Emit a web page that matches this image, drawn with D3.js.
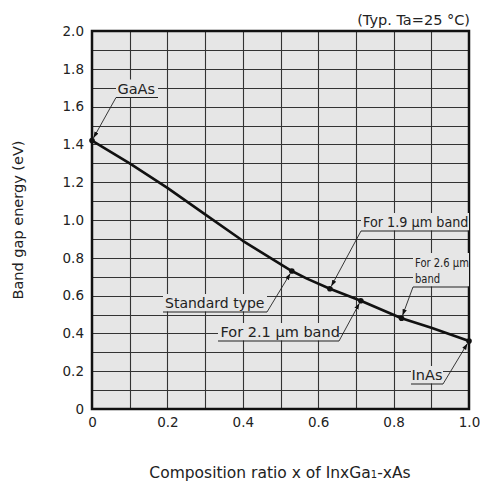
<!DOCTYPE html>
<html>
<head>
<meta charset="utf-8">
<script src="https://cdn.jsdelivr.net/npm/d3@7"></script>
<style>
  body { margin: 0; background: #fff; }
  svg text { font-family: "DejaVu Sans", Verdana, sans-serif; fill: #222; }
</style>
</head>
<body>
<svg id="chart" width="480" height="485"></svg>
<script>
// composition ratio x and band gap energy (eV)
const ratios = [0, 0.1, 0.2, 0.3, 0.4, 0.53, 0.57, 0.631, 0.713, 0.821, 0.9, 1.0];
const energies = [1.42, 1.30, 1.17, 1.03, 0.89, 0.73, 0.69, 0.636, 0.573, 0.48, 0.43, 0.36];

// labelled points
const markNames = ["GaAs", "Standard type", "For 1.9 µm band", "For 2.1 µm band", "For 2.6 µm band", "InAs"];
const markX = [0, 0.53, 0.631, 0.713, 0.821, 1.0];
const markY = [1.42, 0.73, 0.636, 0.573, 0.48, 0.36];

const xTicks = [0, 0.2, 0.4, 0.6, 0.8, 1.0];
const xTickLabels = ["0", "0.2", "0.4", "0.6", "0.8", "1.0"];
const yTicks = [0, 0.2, 0.4, 0.6, 0.8, 1.0, 1.2, 1.4, 1.6, 1.8, 2.0];
const yTickLabels = ["0", "0.2", "0.4", "0.6", "0.8", "1.0", "1.2", "1.4", "1.6", "1.8", "2.0"];

const svg = d3.select("#chart");
const pL = 92, pR = 469, pT = 31, pB = 409;
const x = d3.scaleLinear().domain([0, 1]).range([pL, pR]);
const y = d3.scaleLinear().domain([0, 2]).range([pB, pT]);

svg.append("rect").attr("x", pL).attr("y", pT)
  .attr("width", pR - pL).attr("height", pB - pT).attr("fill", "#e6e6e6");

// grid
const grid = svg.append("g").attr("stroke", "#333").attr("stroke-width", 1.1);
d3.range(1, 10).forEach(i => {
  const px = Math.round(x(i / 10)) + 0.5;
  grid.append("line").attr("x1", px).attr("x2", px).attr("y1", pT).attr("y2", pB);
});
d3.range(1, 20).forEach(i => {
  const py = Math.round(y(i / 10)) + 0.5;
  grid.append("line").attr("x1", pL).attr("x2", pR).attr("y1", py).attr("y2", py);
});

// axes
const xAxis = svg.append("g").attr("transform", `translate(0,${pB})`)
  .call(d3.axisBottom(x).tickValues(xTicks).tickSize(0).tickPadding(8)
    .tickFormat((d, i) => xTickLabels[i]));
const yAxis = svg.append("g").attr("transform", `translate(${pL},0)`)
  .call(d3.axisLeft(y).tickValues(yTicks).tickSize(0).tickPadding(8)
    .tickFormat((d, i) => yTickLabels[i]));
[xAxis, yAxis].forEach(a => {
  a.select(".domain").remove();
  a.selectAll("text").attr("font-size", 13.5).attr("fill", "#222")
    .attr("font-family", "'DejaVu Sans', Verdana, sans-serif");
});

svg.append("rect").attr("x", pL).attr("y", pT)
  .attr("width", pR - pL).attr("height", pB - pT)
  .attr("fill", "none").attr("stroke", "#111").attr("stroke-width", 2.5);

// curve
const line = d3.line().x((d, i) => x(ratios[i])).y(d => y(d));
svg.append("path").datum(energies).attr("d", line)
  .attr("fill", "none").attr("stroke", "#111").attr("stroke-width", 2.6)
  .attr("stroke-linejoin", "round");

svg.selectAll(".mark").data(markX).join("circle")
  .attr("cx", d => x(d)).attr("cy", (d, i) => y(markY[i])).attr("r", 2.8).attr("fill", "#111");

// arrow marker
svg.append("defs").append("marker").attr("id", "arr")
  .attr("viewBox", "0 0 10 10").attr("refX", 10).attr("refY", 5)
  .attr("markerWidth", 7).attr("markerHeight", 7).attr("orient", "auto")
  .append("path").attr("d", "M0,1.5 L10,5 L0,8.5 Z").attr("fill", "#111");

// annotation layout: text box (x1..x2, underline y), leader start side, line texts
const notes = [
  { lines: ["GaAs"], x1: 116, x2: 158, uy: 97.5, from: "left", size: 14.5, pad: 1.5 },
  { lines: ["Standard type"], x1: 163, x2: 267, uy: 312, from: "right", size: 14, pad: 2 },
  { lines: ["For 1.9 µm band"], x1: 361, x2: 469, uy: 231, from: "left", size: 13.5, pad: 2, sx: 0.95 },
  { lines: ["For 2.1 µm band"], x1: 218, x2: 339, uy: 341, from: "right", size: 14.5, pad: 2.5 },
  { lines: ["For 2.6 µm", "band"], x1: 413, x2: 469, uy: 287, from: "left", size: 12.5, pad: 2, lh: 16, sx: 0.8 },
  { lines: ["InAs"], x1: 411, x2: 443, uy: 384, from: "right", size: 14.5, pad: 0.5 }
];

const ann = svg.append("g");
notes.forEach((n, i) => {
  const lh = n.lh || 16;
  const h = n.lines.length * lh + 2;
  ann.append("rect").attr("x", n.x1).attr("y", n.uy - h)
    .attr("width", n.x2 - n.x1).attr("height", h - 0.5).attr("fill", "#e6e6e6");
  n.lines.forEach((t, k) => {
    const ox = n.x1 + n.pad;
    const tx = ann.append("text")
      .attr("x", ox)
      .attr("y", n.uy - 4 - (n.lines.length - 1 - k) * lh)
      .attr("font-size", n.size).text(t);
    if (n.sx) tx.attr("transform", `translate(${ox},0) scale(${n.sx},1) translate(${-ox},0)`);
  });
  ann.append("line").attr("x1", n.x1).attr("x2", n.x2).attr("y1", n.uy).attr("y2", n.uy)
    .attr("stroke", "#222").attr("stroke-width", 1);
  const sx = n.from === "left" ? n.x1 : n.x2;
  const tx = x(markX[i]), ty = y(markY[i]);
  const dx = tx - sx, dy = ty - n.uy, len = Math.hypot(dx, dy);
  ann.append("line").attr("x1", sx).attr("y1", n.uy)
    .attr("x2", tx - dx / len * 3).attr("y2", ty - dy / len * 3)
    .attr("stroke", "#222").attr("stroke-width", 0.9).attr("marker-end", "url(#arr)");
});

// titles
svg.append("text").attr("x", 470).attr("y", 25).attr("text-anchor", "end")
  .attr("font-size", 14.5).text("(Typ. Ta=25 °C)");

svg.append("text").attr("transform", "translate(23,220) rotate(-90)")
  .attr("text-anchor", "middle").attr("font-size", 14.5).text("Band gap energy (eV)");

const xt = svg.append("text").attr("x", 280).attr("y", 478).attr("text-anchor", "middle")
  .attr("font-size", 15.5);
xt.append("tspan").text("Composition ratio x of InxGa");
xt.append("tspan").attr("font-size", 10).text("1");
xt.append("tspan").text("-xAs");
</script>
</body>
</html>
